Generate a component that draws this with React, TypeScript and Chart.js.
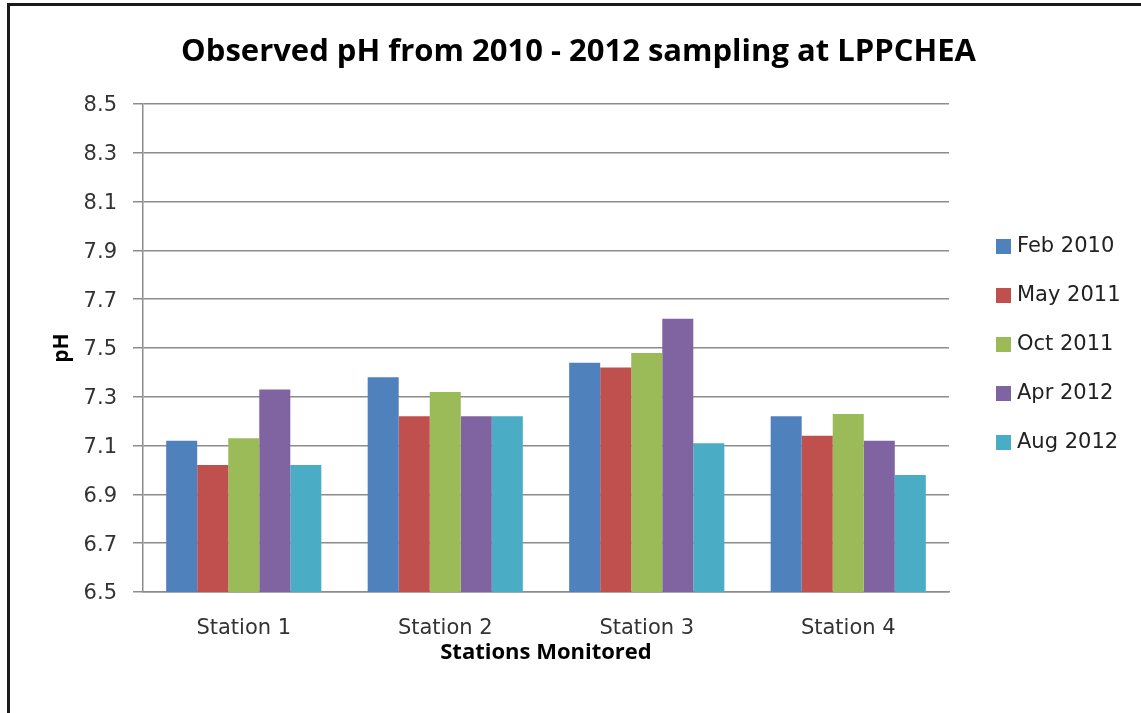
import React, { useEffect, useRef } from "react";
import { Chart, registerables } from "chart.js";

Chart.register(...registerables);

const categories = ["Station 1", "Station 2", "Station 3", "Station 4"];
const seriesLabels = ["Feb 2010", "May 2011", "Oct 2011", "Apr 2012", "Aug 2012"];
const feb2010 = [7.12, 7.38, 7.44, 7.22];
const may2011 = [7.02, 7.22, 7.42, 7.14];
const oct2011 = [7.13, 7.32, 7.48, 7.23];
const apr2012 = [7.33, 7.22, 7.62, 7.12];
const aug2012 = [7.02, 7.22, 7.11, 6.98];
const seriesValues = [feb2010, may2011, oct2011, apr2012, aug2012];
const seriesColors = ["#4F81BD", "#C0504D", "#9BBB59", "#8064A2", "#4BACC6"];
const chartTitle = "Observed pH from 2010 - 2012 sampling at LPPCHEA";
const yMin = 6.5;
const yMax = 8.5;
const yStep = 0.2;

const TITLE_FONT = "'Open Sans', 'Liberation Sans', sans-serif";
const LABEL_FONT = "'DejaVu Sans', 'Liberation Sans', sans-serif";

const titlePlugin = {
  id: "frameTitle",
  afterDraw(chart: any) {
    const { ctx } = chart;
    ctx.save();
    ctx.font = `bold 31px ${TITLE_FONT}`;
    ctx.fillStyle = "#000";
    ctx.textAlign = "center";
    ctx.textBaseline = "middle";
    ctx.fillText(chartTitle, chart.width / 2 + 8, 52);
    ctx.restore();
  },
};

const legendPlugin = {
  id: "sideLegend",
  afterDraw(chart: any) {
    const { ctx, chartArea } = chart;
    const datasets = chart.data.datasets;
    const spacing = 49;
    const centerY = (chartArea.top + chartArea.bottom) / 2 - 4;
    const startY = centerY - ((datasets.length - 1) * spacing) / 2;
    const boxX = chartArea.right + 47;
    ctx.save();
    ctx.font = `21px ${LABEL_FONT}`;
    ctx.textBaseline = "middle";
    ctx.textAlign = "left";
    datasets.forEach((ds: any, i: number) => {
      const y = startY + i * spacing;
      ctx.fillStyle = ds.backgroundColor;
      ctx.fillRect(boxX, y - 7, 15, 15);
      ctx.fillStyle = "#222";
      ctx.fillText(ds.label, boxX + 21, y + 1);
    });
    ctx.restore();
  },
};

export default function App() {
  const canvasRef = useRef<HTMLCanvasElement | null>(null);

  useEffect(() => {
    if (!canvasRef.current) return;
    const chart = new Chart(canvasRef.current, {
      type: "bar",
      data: {
        labels: categories,
        datasets: seriesLabels.map((label, i) => ({
          label,
          data: seriesValues[i],
          backgroundColor: seriesColors[i],
          borderWidth: 0,
          barPercentage: 1,
          categoryPercentage: 0.77,
        })),
      },
      options: {
        animation: false,
        responsive: false,
        maintainAspectRatio: false,
        layout: { padding: { left: 0, right: 192, top: 104, bottom: 0 } },
        plugins: {
          legend: { display: false },
          tooltip: { enabled: false },
          title: { display: false },
        },
        scales: {
          x: {
            afterFit(scale: any) {
              scale.height = 121;
            },
            grid: { display: false, drawTicks: false },
            border: { display: true, color: "#8c8c8c", width: 1.5 },
            ticks: {
              color: "#333",
              font: { family: LABEL_FONT, size: 21 },
              padding: 24,
            },
            title: {
              display: true,
              text: "Stations Monitored",
              color: "#000",
              font: { family: TITLE_FONT, size: 22, weight: "bold" },
              padding: { top: 0, bottom: 47 },
            },
          },
          y: {
            min: yMin,
            max: yMax,
            afterFit(scale: any) {
              scale.width = 143;
            },
            grid: {
              color: "#8c8c8c",
              lineWidth: 1.5,
              drawTicks: true,
              tickLength: 10,
            },
            border: { display: true, color: "#8c8c8c", width: 1.5 },
            ticks: {
              stepSize: yStep,
              color: "#333",
              font: { family: LABEL_FONT, size: 21 },
              padding: 16,
              labelOffset: 2,
              callback: (v: any) => Number(v).toFixed(1),
            },
            title: {
              display: true,
              text: "pH",
              color: "#000",
              font: { family: TITLE_FONT, size: 21, weight: "bold" },
              padding: { top: 49, bottom: 0 },
            },
          },
        },
      },
      plugins: [titlePlugin, legendPlugin],
    });
    return () => chart.destroy();
  }, []);

  return (
    <div
      style={{
        position: "fixed",
        left: 0,
        top: 0,
        width: 1141,
        height: 713,
        background: "#fff",
        overflow: "hidden",
      }}
    >
      <div
        style={{
          position: "absolute",
          left: 7,
          top: 3,
          width: 1200,
          height: 800,
          borderTop: "3px solid #1a1a1a",
          borderLeft: "3px solid #1a1a1a",
        }}
      />
      <canvas
        ref={canvasRef}
        width={1141}
        height={713}
        style={{ position: "absolute", left: 0, top: 0 }}
      />
    </div>
  );
}
